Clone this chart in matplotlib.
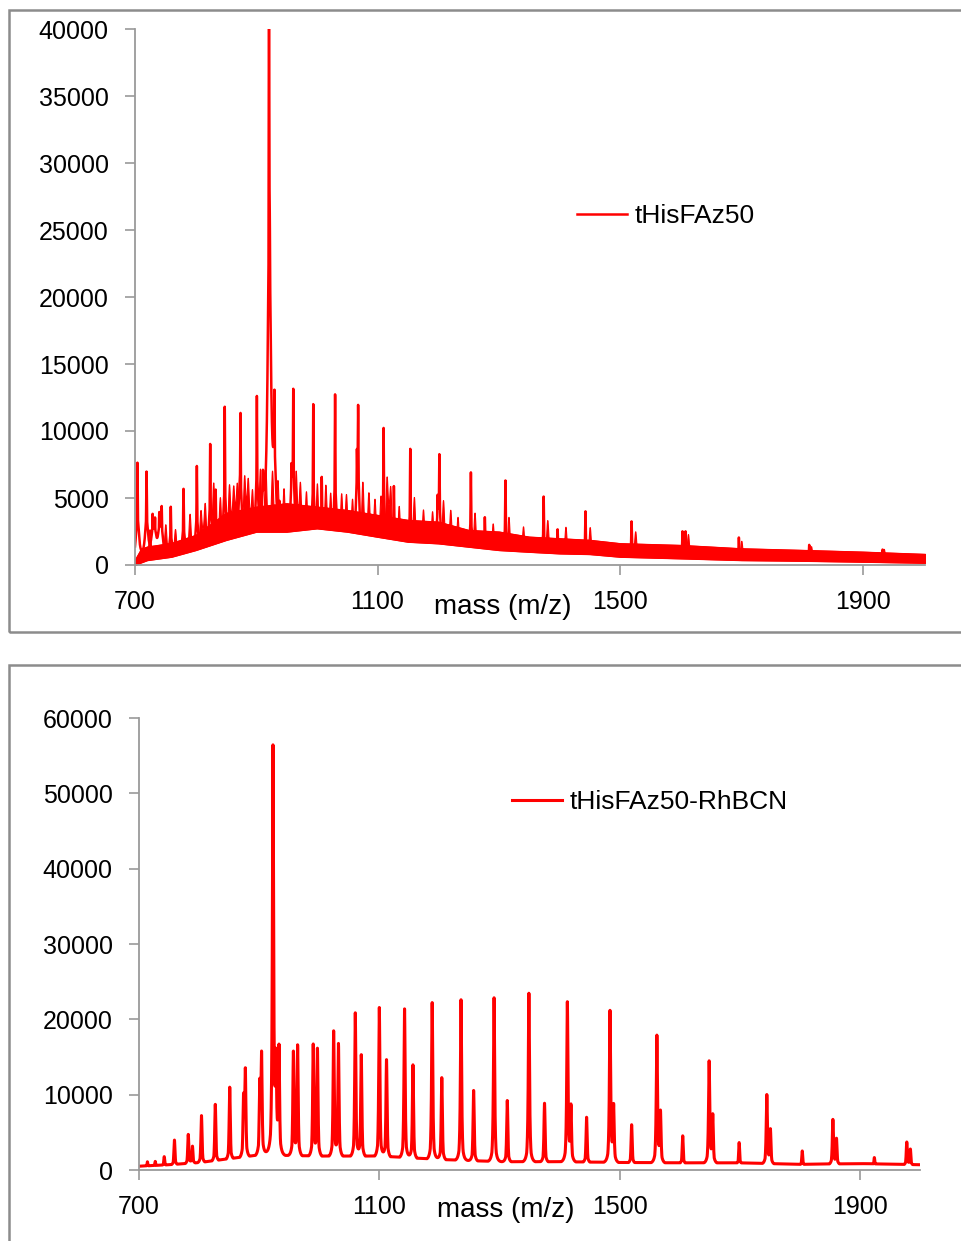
import numpy as np
import matplotlib
matplotlib.use("Agg")
import matplotlib.pyplot as plt
from matplotlib.patches import Rectangle

plt.rcParams['font.family'] = ['Liberation Sans', 'DejaVu Sans']

# ---------------- data ----------------
# Top panel: tHisFAz50 -- sharp peaks
top_peak_mz = [704, 719, 729, 733, 740, 744, 759, 780, 802, 824, 833, 848, 872, 874,
               901, 911, 921, 922.5, 930, 938, 958, 961, 994, 1008, 1030, 1066, 1068,
               1110, 1127, 1154, 1199, 1202, 1254, 1277, 1311, 1374, 1397, 1443, 1519,
               1603, 1608, 1696, 1812, 1933]
top_peak_int = [7600, 6900, 3600, 3300, 3700, 4200, 4300, 5650, 7350, 8950, 5500, 11750, 4300, 10700,
                12450, 6650, 40000, 16000, 12500, 4500, 6700, 12650, 11950, 6500, 12700, 7100, 10950,
                10200, 5850, 8650, 4700, 7950, 6900, 3550, 6300, 5100, 2650, 4000, 3250,
                2450, 2450, 2050, 1500, 1150]
# Top panel: small clusters / shoulders riding on the noisy band
top_hump_mz = [724, 750, 766, 790, 808, 815, 829, 840, 855, 862, 868, 880, 886, 893, 906,
               915, 926, 935, 945, 965, 972, 982, 1000, 1014, 1022, 1040, 1048, 1058, 1075,
               1085, 1095, 1105, 1115, 1121, 1135, 1160, 1175, 1190, 1208, 1220, 1232, 1260,
               1290, 1316, 1340, 1380, 1410, 1450, 1525, 1612, 1700, 1815, 1935]
top_hump_int = [2600, 2900, 2500, 3600, 3400, 3900, 5600, 4400, 5000, 4300, 4800, 5300, 4800,
                4400, 6200, 6300, 6000, 5300, 5000, 6100, 5000, 4800, 5600, 5200, 4600, 4600,
                4400, 4300, 5600, 4600, 4100, 4300, 5400, 4700, 4000, 4800, 3800, 3700, 4500,
                3700, 3300, 3800, 3000, 3500, 2800, 3300, 2800, 2800, 2500, 2300, 1800, 1400, 1200]
top_band_mz = [700, 710, 720, 760, 800, 850, 900, 950, 1000, 1050, 1100, 1150, 1200,
               1250, 1300, 1350, 1400, 1450, 1500, 1600, 1700, 1800, 1900, 2003]
top_band_low = [0, 200, 370, 620, 1120, 1870, 2490, 2490, 2740, 2490, 2110, 1740, 1620,
                1370, 1120, 990, 870, 820, 620, 500, 370, 320, 250, 170]
top_band_high = [400, 1200, 1370, 1640, 2240, 3880, 4350, 4600, 4350, 4100, 3730, 3360, 3230,
                 2610, 2490, 2110, 1990, 1870, 1620, 1490, 1240, 1120, 990, 820]

# Bottom panel: tHisFAz50-RhBCN
bot_peak_mz = [714, 727, 742, 759, 782, 789, 804, 827, 851, 874, 877, 901, 904, 923, 928, 933,
               957, 964, 990, 997, 1024, 1032, 1060, 1070, 1100, 1112, 1142, 1156, 1188, 1204,
               1236, 1257, 1291, 1313, 1349, 1375, 1413, 1419, 1445, 1484, 1490, 1520, 1562,
               1568, 1605, 1649, 1655, 1699, 1745, 1751, 1804, 1855, 1861, 1924, 1978, 1984]
bot_peak_int = [1060, 1100, 1720, 3920, 4580, 2950, 7130, 8620, 10870, 8360, 12270, 9900, 14080,
                55400, 12190, 15130, 15130, 16010, 16140, 15570, 17990, 16280, 20540, 14910,
                21330, 14340, 21200, 13720, 22080, 12060, 22500, 10420, 22780, 9100, 23400,
                8760, 21990, 7880, 6910, 20850, 8000, 5940, 17600, 7260, 4490, 14210, 6910,
                3610, 9810, 5100, 2510, 6560, 3960, 1640, 3610, 2640]
bot_base_mz = [700, 750, 800, 850, 900, 1000, 1100, 1200, 1300, 1400, 1500, 1600, 1700,
               1800, 1900, 2000]
bot_base_int = [500, 700, 980, 1500, 2000, 1850, 1850, 1400, 1100, 1100, 1000, 950, 950,
                750, 850, 700]

x_ticks = [700, 1100, 1500, 1900]
top_yticks = [0, 5000, 10000, 15000, 20000, 25000, 30000, 35000, 40000]
bot_yticks = [0, 10000, 20000, 30000, 40000, 50000, 60000]


def lorentz_sum(grid, mz, inten, gamma):
    prof = np.zeros_like(grid)
    for m, h in zip(mz, inten):
        prof += h * gamma**2 / ((grid - m)**2 + gamma**2)
    return prof


W, H = 961, 1241
fig = plt.figure(figsize=(W / 100, H / 100), dpi=100)

gray = '#8c8c8c'
fig.patches.append(Rectangle((9 / W, 1 - 632 / H), 1.0, (632 - 10) / H,
                             transform=fig.transFigure, fill=False, ec=gray, lw=1.8))
fig.patches.append(Rectangle((9 / W, -0.05), 1.0, 1 - 665 / H + 0.05,
                             transform=fig.transFigure, fill=False, ec=gray, lw=1.8))


def style(ax, yticks, ylim):
    for s in ['top', 'right']:
        ax.spines[s].set_visible(False)
    for s in ['left', 'bottom']:
        ax.spines[s].set_color('#9a9a9a')
        ax.spines[s].set_linewidth(1.3)
    ax.set_xticks(x_ticks)
    ax.set_yticks(yticks)
    ax.set_ylim(*ylim)
    ax.tick_params(axis='both', colors='#9a9a9a', labelcolor='black', labelsize=18,
                   length=7, width=1.2, direction='out')
    ax.tick_params(axis='y', pad=12)
    ax.tick_params(axis='x', pad=11)


RED = '#ff0000'

# ---------------- top panel ----------------
ax1 = fig.add_axes([135 / W, 1 - 565 / H, 790 / W, 536 / H])
grid1 = np.arange(700, 2003.01, 0.1)
low1 = np.interp(grid1, top_band_mz, top_band_low)
high1 = np.interp(grid1, top_band_mz, top_band_high)
mid1 = (low1 + high1) / 2
ax1.fill_between(top_band_mz, top_band_low, top_band_high, color=RED, lw=1.0, ec=RED)
humps = lorentz_sum(grid1, top_hump_mz, top_hump_int, 2.5)
ax1.fill_between(grid1, low1, np.maximum(high1, humps), color=RED, lw=0.8, ec=RED)
spikes = lorentz_sum(grid1, top_peak_mz, top_peak_int, 0.8)
broad = lorentz_sum(grid1, top_peak_mz, np.array(top_peak_int) * 0.45, 3.0)
y1 = np.maximum(mid1, np.maximum(spikes, broad))
ax1.plot(grid1, y1, color=RED, lw=1.8, label='tHisFAz50')
ax1.set_xlim(700, 2003)
style(ax1, top_yticks, (0, 40000))
ax1.legend(loc='center left', bbox_to_anchor=(577 / W, 1 - 216 / H), bbox_transform=fig.transFigure,
           frameon=False, fontsize=19, handlelength=1.9, handletextpad=0.27, borderpad=0,
           borderaxespad=0)
fig.text(503 / W, 1 - 607 / H, 'mass (m/z)', fontsize=20, ha='center', va='center')

# ---------------- bottom panel ----------------
ax2 = fig.add_axes([139 / W, 1 - 1170 / H, 781 / W, 452 / H])
grid2 = np.arange(700, 2000.01, 0.1)
base2 = np.interp(grid2, bot_base_mz, bot_base_int)
sharp2 = lorentz_sum(grid2, bot_peak_mz, bot_peak_int, 1.2)
foot2 = lorentz_sum(grid2, bot_peak_mz, np.array(bot_peak_int) * 0.2, 2.5)
y2 = np.maximum(base2, np.maximum(sharp2, foot2 + base2 * 0.7))
ax2.plot(grid2, y2, color=RED, lw=2.2, label='tHisFAz50-RhBCN')
ax2.set_xlim(700, 2000)
style(ax2, bot_yticks, (0, 60000))
ax2.legend(loc='center left', bbox_to_anchor=(512 / W, 1 - 802 / H), bbox_transform=fig.transFigure,
           frameon=False, fontsize=19, handlelength=1.9, handletextpad=0.27, borderpad=0,
           borderaxespad=0)
fig.text(506 / W, 1 - 1210 / H, 'mass (m/z)', fontsize=20, ha='center', va='center')

fig.savefig('out.png', dpi=100)
